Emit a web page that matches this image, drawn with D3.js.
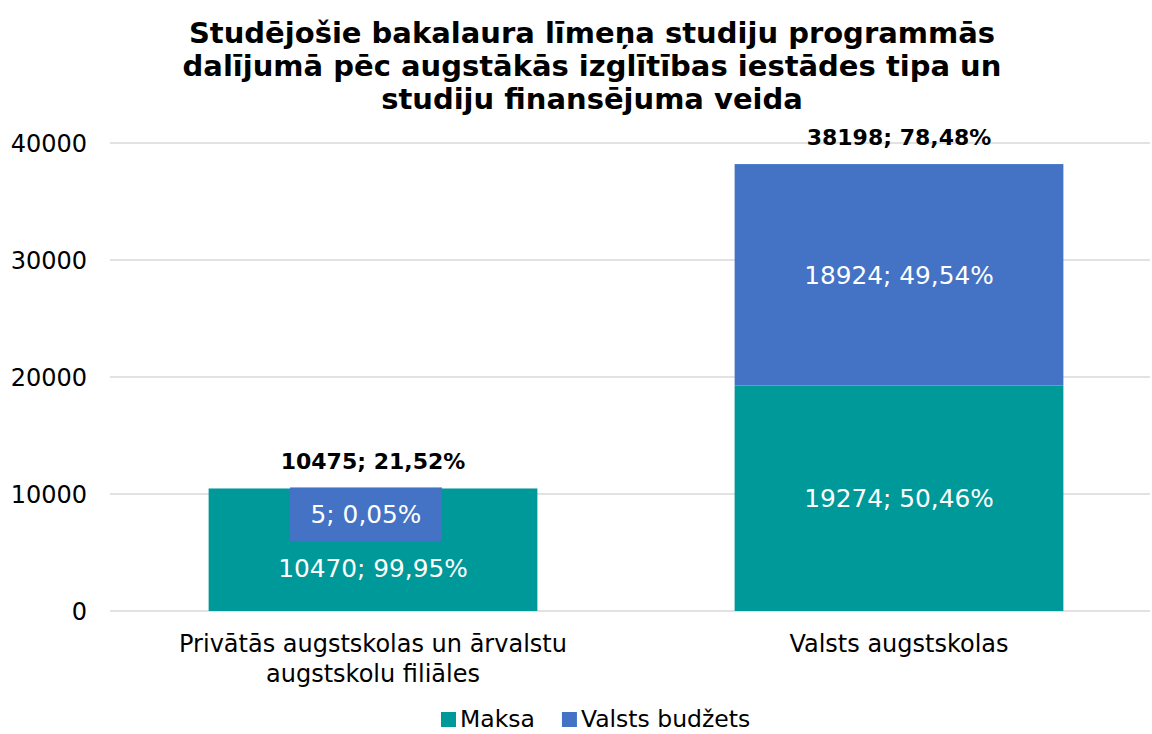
<!DOCTYPE html>
<html>
<head>
<meta charset="utf-8">
<script src="https://cdn.jsdelivr.net/npm/d3@7"></script>
<style>
  body { margin: 0; background: #fff; }
  text { font-family: "DejaVu Sans", Verdana, sans-serif; }
</style>
</head>
<body>
<div class="canvas"></div>
<script>
/**
 * Data
 */
const categories = ["Privātās augstskolas un ārvalstu augstskolu filiāles", "Valsts augstskolas"]
const categoryLines = [["Privātās augstskolas un ārvalstu", "augstskolu filiāles"], ["Valsts augstskolas"]]
const seriesNames = ["Maksa", "Valsts budžets"]
const maksa = [10470, 19274]
const budzets = [5, 18924]
const maksaPct = ["99,95%", "50,46%"]
const budzetsPct = ["0,05%", "49,54%"]
const totals = [10475, 38198]
const totalPct = ["21,52%", "78,48%"]
const yTicks = [0, 10000, 20000, 30000, 40000]
const titleLines = [
    "Studējošie bakalaura līmeņa studiju programmās",
    "dalījumā pēc augstākās izglītības iestādes tipa un",
    "studiju finansējuma veida"
]

/**
 * Dimension setup
 */
const dims = { width: 1152, height: 734 }
const plot = { left: 110, right: 1162, top: 143, bottom: 611 }
const colors = { maksa: "#009999", budzets: "#4472C4", grid: "#d9d9d9" }

const svg = d3.select(".canvas")
    .append("svg")
    .attr("width", dims.width)
    .attr("height", dims.height)

/**
 * Scales
 */
const x = d3.scaleBand()
    .domain(categories)
    .range([plot.left, plot.right])
    .paddingInner(0.375)
    .paddingOuter(0.1875)

const y = d3.scaleLinear()
    .domain([0, 40000])
    .range([plot.bottom, plot.top])

/**
 * Title
 */
svg.append("g").selectAll("text")
    .data(titleLines)
    .enter().append("text")
    .attr("x", 592)
    .attr("y", (d, i) => 43 + i * 33)
    .attr("text-anchor", "middle")
    .attr("font-size", 29)
    .attr("font-weight", "bold")
    .attr("fill", "#000")
    .text(d => d)

/**
 * Grid + y axis labels
 */
const grid = svg.append("g")
grid.selectAll("line")
    .data(yTicks)
    .enter().append("line")
    .attr("x1", plot.left)
    .attr("x2", 1150)
    .attr("y1", d => y(d))
    .attr("y2", d => y(d))
    .attr("stroke", colors.grid)
    .attr("stroke-width", 1.5)

grid.selectAll("text")
    .data(yTicks)
    .enter().append("text")
    .attr("x", 87)
    .attr("y", d => y(d))
    .attr("dy", "0.36em")
    .attr("text-anchor", "end")
    .attr("font-size", 24)
    .attr("fill", "#000")
    .text(d => d)

/**
 * Stacked bars
 */
const stackData = categories.map((c, i) => ({ cat: c, Maksa: maksa[i], "Valsts budžets": budzets[i] }))
const stacked = d3.stack().keys(seriesNames)(stackData)
const fill = d3.scaleOrdinal().domain(seriesNames).range([colors.maksa, colors.budzets])

svg.append("g").selectAll("g")
    .data(stacked)
    .enter().append("g")
    .attr("fill", d => fill(d.key))
    .selectAll("rect")
    .data(d => d)
    .enter().append("rect")
    .attr("x", d => x(d.data.cat))
    .attr("width", x.bandwidth())
    .attr("y", d => y(d[1]))
    .attr("height", d => y(d[0]) - y(d[1]))

/**
 * Data labels
 */
const labels = svg.append("g")
    .attr("font-size", 24.8)
    .attr("fill", "#fff")
    .attr("text-anchor", "middle")

categories.forEach((c, i) => {
    const cx = x(c) + x.bandwidth() / 2
    const segH = y(0) - y(budzets[i])
    if (segH < 40) {
        // tiny segment: label gets its own filled box, maksa label pushed under it
        const top = y(totals[i]) - 1
        const boxW = 152, boxH = 54, bx = cx - 7
        labels.append("rect")
            .attr("x", bx - boxW / 2)
            .attr("y", top)
            .attr("width", boxW)
            .attr("height", boxH)
            .attr("fill", colors.budzets)
        labels.append("text")
            .attr("x", bx).attr("y", top + boxH / 2).attr("dy", "0.36em")
            .text(`${budzets[i]}; ${budzetsPct[i]}`)
        labels.append("text")
            .attr("x", cx).attr("y", top + boxH + 27).attr("dy", "0.36em")
            .text(`${maksa[i]}; ${maksaPct[i]}`)
    } else {
        labels.append("text")
            .attr("x", cx).attr("y", y(maksa[i] / 2)).attr("dy", "0.36em")
            .text(`${maksa[i]}; ${maksaPct[i]}`)
        labels.append("text")
            .attr("x", cx).attr("y", y(maksa[i] + budzets[i] / 2)).attr("dy", "0.36em")
            .text(`${budzets[i]}; ${budzetsPct[i]}`)
    }
    // total label
    svg.append("text")
        .attr("x", cx)
        .attr("y", Math.max(y(totals[i]) - 19, 141))
        .attr("text-anchor", "middle")
        .attr("font-size", 22)
        .attr("font-weight", "bold")
        .attr("fill", "#000")
        .text(`${totals[i]}; ${totalPct[i]}`)
})

/**
 * Category labels
 */
categories.forEach((c, i) => {
    const cx = x(c) + x.bandwidth() / 2
    svg.append("g").selectAll("text")
        .data(categoryLines[i])
        .enter().append("text")
        .attr("x", cx)
        .attr("y", (d, j) => 652 + j * 30)
        .attr("text-anchor", "middle")
        .attr("font-size", 24)
        .attr("fill", "#000")
        .text(d => d)
})

/**
 * Legend
 */
const legend = svg.append("g").attr("transform", "translate(441, 719)")
let lx = 0
seriesNames.forEach(name => {
    legend.append("rect")
        .attr("x", lx).attr("y", -7)
        .attr("width", 15).attr("height", 15)
        .attr("fill", fill(name))
    const t = legend.append("text")
        .attr("x", lx + 19).attr("y", 0).attr("dy", "0.36em")
        .attr("font-size", 23.5)
        .attr("fill", "#000")
        .text(name)
    lx += 19 + t.node().getComputedTextLength() + 27
})
</script>
</body>
</html>
